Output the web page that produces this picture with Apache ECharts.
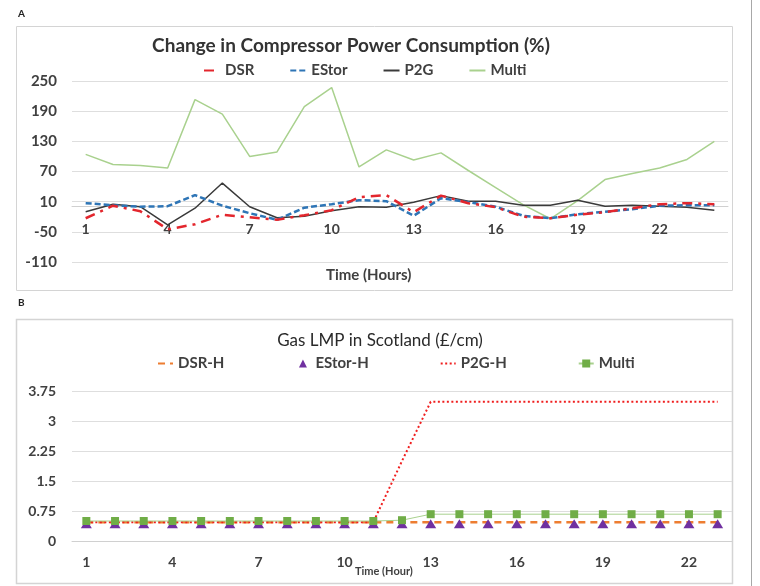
<!DOCTYPE html>
<html>
<head>
<meta charset="utf-8">
<script src="https://cdn.jsdelivr.net/npm/echarts@6/dist/echarts.min.js"></script>
<style>
  html, body { margin: 0; padding: 0; background: #fff; }
  #chart { width: 760px; height: 586px; }
</style>
</head>
<body>
<div id="chart"></div>
<script>
// panel A: change in compressor power consumption (%)
const hoursA = ['1', '2', '3', '4', '5', '6', '7', '8', '9', '10', '11', '12',
  '13', '14', '15', '16', '17', '18', '19', '20', '21', '22', '23', '24']
const dsr = [-23, 2, -9, -45, -35, -16, -21, -26, -17, -7, 19, 23,
  -11, 22, 7, -1, -20, -23, -16, -11, -3, 5, 7, 5]
const estor = [7, 3, 0, 1, 23, 2, -13, -26, -2, 5, 13, 11,
  -18, 17, 9, 0, -18, -23, -15, -10, -5, 2, 3, 3]
const p2g = [-10, 5, 0, -36, -3, 47, 0, -22, -19, -8, 0, -1,
  9, 22, 11, 11, 3, 3, 13, 1, 3, 1, -1, -7]
const multi = [104, 84, 82, 77, 213, 184, 100, 109, 199, 237, 79, 113,
  93, 107, 72, 38, 4, -24, 12, 54, 66, 77, 94, 130]

// panel B: gas LMP in Scotland (£/cm)
const hoursB = ['1', '2', '3', '4', '5', '6', '7', '8', '9', '10', '11', '12',
  '13', '14', '15', '16', '17', '18', '19', '20', '21', '22', '23']
const dsrH = [0.47, 0.47, 0.47, 0.47, 0.47, 0.47, 0.47, 0.47, 0.47, 0.47, 0.47, 0.47,
  0.47, 0.47, 0.47, 0.47, 0.47, 0.47, 0.47, 0.47, 0.47, 0.47, 0.47]
const estorH = [0.43, 0.43, 0.43, 0.43, 0.43, 0.43, 0.43, 0.43, 0.43, 0.43, 0.43, 0.43,
  0.43, 0.43, 0.43, 0.43, 0.43, 0.43, 0.43, 0.43, 0.43, 0.43, 0.43]
const p2gH = [0.47, 0.47, 0.47, 0.47, 0.47, 0.47, 0.47, 0.47, 0.47, 0.47, 0.47, 2.0,
  3.48, 3.48, 3.48, 3.48, 3.48, 3.48, 3.48, 3.48, 3.48, 3.48, 3.48]
const multiH = [0.5, 0.5, 0.5, 0.5, 0.5, 0.5, 0.5, 0.5, 0.5, 0.5, 0.5, 0.52,
  0.67, 0.67, 0.67, 0.67, 0.67, 0.67, 0.67, 0.67, 0.67, 0.67, 0.67]

const font = 'Lato'
const txt = '#404040'
const gridColor = '#dedede'
const clear = 'rgba(0,0,0,0)'

const chart = echarts.init(document.getElementById('chart'))

const option = {
  animation: false,
  textStyle: { fontFamily: font },
  title: [
    {
      text: 'Change in Compressor Power Consumption (%)',
      left: 346, top: 31, textAlign: 'center',
      textStyle: { fontFamily: font, fontSize: 19, fontWeight: 'bold', color: '#333' },
    },
    {
      text: 'Gas LMP in Scotland (£/cm)',
      left: 375, top: 327, textAlign: 'center',
      textStyle: { fontFamily: font, fontSize: 17, fontWeight: 'normal', color: '#2a2a2a' },
    },
  ],
  legend: [
    {
      data: ['DSR', 'EStor', 'P2G', 'Multi'],
      left: 203, top: 63, padding: 0,
      itemWidth: 16, itemHeight: 10, itemGap: 35,
      textStyle: { fontFamily: font, fontSize: 15, fontWeight: 'bold', color: txt },
    },
    {
      data: ['DSR-H', 'EStor-H', 'P2G-H', 'Multi '],
      left: 157, top: 356, padding: 0,
      itemWidth: 15, itemHeight: 10, itemGap: 71,
      textStyle: { fontFamily: font, fontSize: 15, fontWeight: 'bold', color: txt },
    },
  ],
  grid: [
    { left: 72, right: 32, top: 81, height: 181 },
    { left: 72, right: 28, top: 391, height: 150 },
  ],
  xAxis: [
    {
      // excel puts this axis at y = 0 with its labels just below it
      gridIndex: 0, type: 'category', data: hoursA, boundaryGap: true,
      offset: -56,
      axisLine: { onZero: false, lineStyle: { color: '#d0d0d0' } },
      axisTick: { show: false },
      axisLabel: { interval: 2, margin: 16, fontFamily: font, fontSize: 14, fontWeight: 'bold', color: txt },
    },
    {
      gridIndex: 1, type: 'category', data: hoursB, boundaryGap: true,
      axisLine: { lineStyle: { color: '#d0d0d0' } },
      axisTick: { show: false },
      axisLabel: { interval: 2, margin: 14, fontFamily: font, fontSize: 14, fontWeight: 'bold', color: txt },
    },
  ],
  yAxis: [
    {
      gridIndex: 0, type: 'value', min: -110, max: 250, interval: 60,
      axisLine: { show: false }, axisTick: { show: false },
      splitLine: { lineStyle: { color: gridColor } },
      axisLabel: { margin: 15, fontFamily: font, fontSize: 15, fontWeight: 'bold', color: txt },
    },
    {
      gridIndex: 1, type: 'value', min: 0, max: 3.75, interval: 0.75,
      axisLine: { show: false }, axisTick: { show: false },
      splitLine: { lineStyle: { color: gridColor } },
      axisLabel: { margin: 16, fontFamily: font, fontSize: 14, fontWeight: 'bold', color: txt },
    },
  ],
  series: [
    {
      name: 'Multi', type: 'line', data: multi, xAxisIndex: 0, yAxisIndex: 0,
      symbol: 'none', lineStyle: { color: '#a9d18e', width: 1.5 }, itemStyle: { color: clear },
    },
    {
      name: 'P2G', type: 'line', data: p2g, xAxisIndex: 0, yAxisIndex: 0,
      symbol: 'none', lineStyle: { color: '#3a3a3a', width: 1.5 }, itemStyle: { color: clear },
    },
    {
      name: 'EStor', type: 'line', data: estor, xAxisIndex: 0, yAxisIndex: 0,
      symbol: 'none', lineStyle: { color: '#2e75b6', width: 2.5, type: [6, 3] }, itemStyle: { color: clear },
    },
    {
      name: 'DSR', type: 'line', data: dsr, xAxisIndex: 0, yAxisIndex: 0,
      symbol: 'none', lineStyle: { color: '#e3262d', width: 2.5, type: [10, 6, 3, 6] }, itemStyle: { color: clear },
    },
    {
      name: 'DSR-H', type: 'line', data: dsrH, xAxisIndex: 1, yAxisIndex: 1,
      symbol: 'none', lineStyle: { color: '#ed7d31', width: 2.5, type: [7, 5] }, itemStyle: { color: clear },
    },
    {
      name: 'EStor-H', type: 'line', data: estorH, xAxisIndex: 1, yAxisIndex: 1,
      symbol: 'triangle', symbolSize: [11, 9], showAllSymbol: true,
      lineStyle: { width: 0, opacity: 0 }, itemStyle: { color: '#7030a0' },
    },
    {
      name: 'P2G-H', type: 'line', data: p2gH, xAxisIndex: 1, yAxisIndex: 1,
      symbol: 'none', lineStyle: { color: '#f01e1e', width: 2, type: [2, 2.5] }, itemStyle: { color: clear },
    },
    {
      name: 'Multi ', type: 'line', data: multiH, xAxisIndex: 1, yAxisIndex: 1,
      symbol: 'rect', symbolSize: 8, showAllSymbol: true,
      lineStyle: { color: '#a9d18e', width: 1 }, itemStyle: { color: '#70ad47' },
    },
  ],
  graphic: [
    { type: 'rect', shape: { x: 16.5, y: 26.5, width: 716, height: 264 }, style: { fill: 'none', stroke: '#d4d4d4', lineWidth: 1 }, silent: true },
    { type: 'rect', shape: { x: 16.5, y: 319.5, width: 716, height: 264 }, style: { fill: 'none', stroke: '#d4d4d4', lineWidth: 1.5 }, silent: true },
    { type: 'line', shape: { x1: 751.5, y1: 0, x2: 751.5, y2: 586 }, style: { stroke: '#a8a8a8', lineWidth: 1 }, silent: true },
    { type: 'text', left: 18, top: 9, style: { text: 'A', font: 'bold 10px Lato', fill: '#222' } },
    { type: 'text', left: 18, top: 298, style: { text: 'B', font: 'bold 10px Lato', fill: '#222' } },
    { type: 'text', left: 326, top: 268, style: { text: 'Time (Hours)', font: 'bold 15px Lato', fill: txt } },
    { type: 'text', left: 355, top: 566, style: { text: 'Time (Hour)', font: 'bold 11px Lato', fill: txt } },
  ],
}

chart.setOption(option)
</script>
</body>
</html>
